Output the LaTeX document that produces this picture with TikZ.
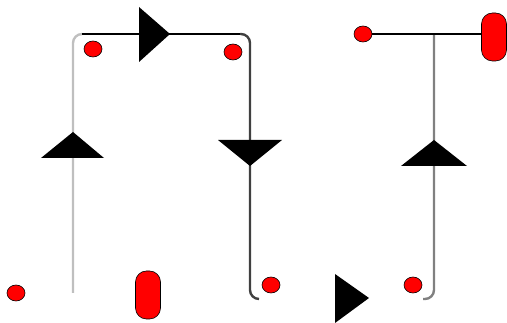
\documentclass[tikz,border=0pt]{standalone}
\usetikzlibrary{shapes.geometric}
\begin{document}
\begin{tikzpicture}[%
            x=1pt, y=-1pt,
            reddot/.style={shape=ellipse,draw=black,line width=0.6pt,fill=red,inner sep=0pt,minimum width=18pt,minimum height=16pt},
            redpill/.style={shape=rectangle,rounded corners=11pt,draw=black,line width=0.6pt,fill=red,inner sep=0pt,minimum width=25pt,minimum height=48pt},
            blackwire/.style={draw=black,line width=2.6pt},
            graywire/.style={line width=2.4pt,rounded corners=9pt},
            arrowhead/.style={fill=black}
    ]
        \useasboundingbox (0,0) rectangle (507,323);

        % left loop
        \coordinate (lb) at (73,293);
        \coordinate (lt) at (82,34);
        \coordinate (rt) at (240,34);
        \coordinate (rb) at (259,299);
        \draw [graywire, draw=black!25] (lb) -- (73,34) -- (lt);
        \draw [blackwire] (lt) -- (rt);
        \draw [graywire, draw=black!75] (rt) -- (250,34) -- (250,299) -- (rb);

        % right branch
        \node [reddot] (d5) at (363,34) {};
        \node [redpill] (p2) at (494,37) {};
        \coordinate (tj) at (434,34);
        \coordinate (tb) at (423,299);
        \draw [graywire, draw=black!50] (tj) -- (434,299) -- (tb);
        \draw [blackwire] (d5) -- (p2.west |- d5);

        % markers
        \fill [arrowhead] (139,7) -- (170,34) -- (139,62) -- cycle;
        \fill [arrowhead] (41,158) -- (73,132) -- (104,158) -- cycle;
        \fill [arrowhead] (218,140) -- (282,140) -- (250,166) -- cycle;
        \fill [arrowhead] (401,166) -- (434,140) -- (467,166) -- cycle;
        \fill [arrowhead] (335,274) -- (369,298) -- (335,323) -- cycle;

        % points
        \node [reddot] (d1) at (93,49) {};
        \node [reddot] (d2) at (233,52) {};
        \node [reddot] (d3) at (16,293) {};
        \node [reddot] (d4) at (271,285) {};
        \node [reddot] (d6) at (413,285) {};
        \node [redpill] (p1) at (148,295) {};
    \end{tikzpicture}
\end{document}
